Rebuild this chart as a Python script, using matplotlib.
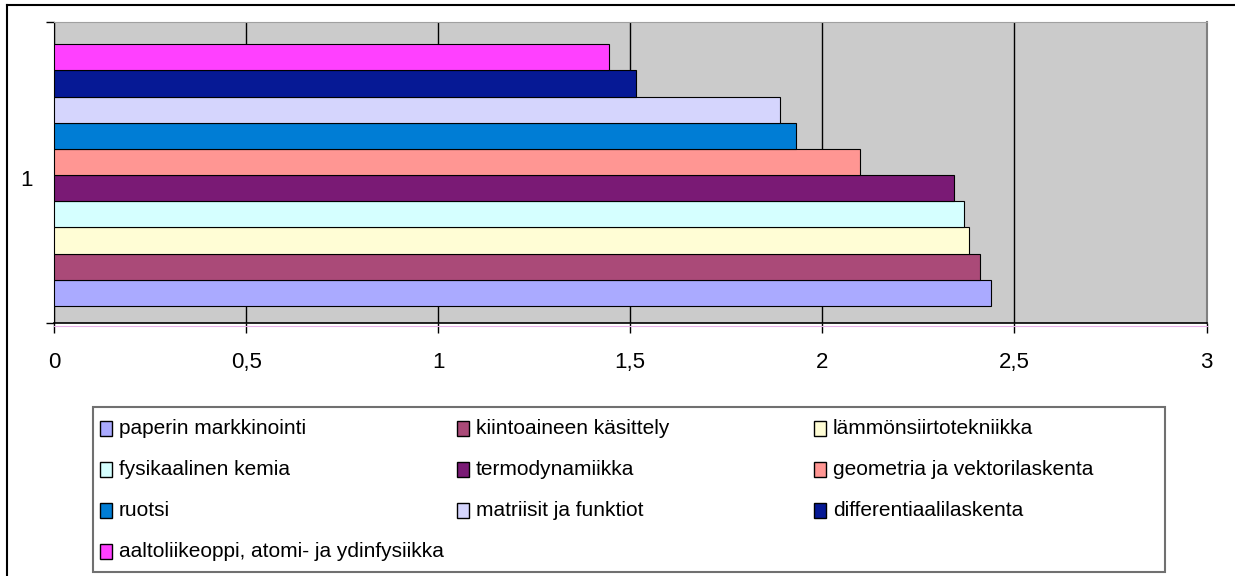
import matplotlib
matplotlib.use("Agg")
import matplotlib.pyplot as plt
from matplotlib import font_manager
from matplotlib.patches import Rectangle
from matplotlib.lines import Line2D

# series in Excel order (first series drawn at the bottom)
series = ["paperin markkinointi", "kiintoaineen käsittely", "lämmönsiirtotekniikka",
          "fysikaalinen kemia", "termodynamiikka", "geometria ja vektorilaskenta",
          "ruotsi", "matriisit ja funktiot", "differentiaalilaskenta",
          "aaltoliikeoppi, atomi- ja ydinfysiikka"]
values = [2.438, 2.411, 2.383, 2.369, 2.342, 2.098, 1.932, 1.890, 1.515, 1.445]
colors = ["#AAAAFF", "#AA4A78", "#FFFDD5", "#D5FFFF", "#7A1A75",
          "#FF9693", "#007DD5", "#D5D5FD", "#061995", "#FF40FF"]
category = "1"
xticks = [0, 0.5, 1, 1.5, 2, 2.5, 3]
xticklabels = ["0", "0,5", "1", "1,5", "2", "2,5", "3"]

# font: narrow Arial-like if available
names = {f.name for f in font_manager.fontManager.ttflist}
narrow = "Liberation Sans Narrow" in names
fam = "Liberation Sans Narrow" if narrow else "Liberation Sans"
plt.rcParams["font.family"] = [fam, "DejaVu Sans"]
tick_fs = 18 if narrow else 16
leg_fs = 17 if narrow else 15

W, H = 1235, 576
fig = plt.figure(figsize=(W / 100, H / 100), dpi=100)

# plot area in pixels
left, right, top, bottom = 54, 1206.5, 22, 323.3
ax = fig.add_axes([left / W, 1 - bottom / H, (right - left) / W, (bottom - top) / H])
ax.set_facecolor("#CBCBCB")

for i, (v, c) in enumerate(zip(values, colors)):
    ax.barh(i, v, height=1.0, color=c, edgecolor="black", linewidth=0.8, zorder=3)

ax.set_xlim(0, 3)
ax.set_ylim(-1.161, 10.352)

ax.set_xticks(xticks)
ax.set_xticklabels(xticklabels, fontsize=tick_fs)
ax.tick_params(axis="x", direction="out", length=7, width=1, color="black", pad=14)
ax.grid(axis="x", color="black", linewidth=1)
ax.set_axisbelow(True)

ax.set_yticks([4.4])
ax.set_yticklabels([category], fontsize=tick_fs)
ax.tick_params(axis="y", which="major", length=0, pad=15)
ax.set_yticks([-1.161, 10.352], minor=True)
ax.tick_params(axis="y", which="minor", direction="out", length=6, width=1, color="black")

ax.spines["left"].set_color("black")
ax.spines["bottom"].set_color("black")
ax.spines["bottom"].set_linewidth(1.2)
ax.spines["top"].set_color("#A0A0A0")
ax.spines["right"].set_color("#808080")
ax.spines["right"].set_linewidth(1.5)

# faint pink line just under the value axis
fig.add_artist(Line2D([left / W, right / W], [1 - 326 / H, 1 - 326 / H],
                      color="#E8B0E8", linewidth=0.8))

# outer chart frame (cut off at right and bottom)
fig.add_artist(Line2D([7 / W, 7 / W], [0, 1 - 5 / H], color="black", linewidth=1.5))
fig.add_artist(Line2D([7 / W, 1], [1 - 5 / H, 1 - 5 / H], color="black", linewidth=1.5))

# legend box, laid out row by row like Excel
fig.add_artist(Rectangle((93 / W, 1 - 572 / H), (1165 - 93) / W, (572 - 407) / H,
                         transform=fig.transFigure, facecolor="white",
                         edgecolor="#707070", linewidth=1.5))
for i, (name, c) in enumerate(zip(series, colors)):
    row, col = divmod(i, 3)
    x = 100 + col * 357
    y = 428 + row * 41.3
    fig.add_artist(Rectangle((x / W, 1 - (y + 7.5) / H), 12 / W, 15 / H,
                             transform=fig.transFigure, facecolor=c,
                             edgecolor="black", linewidth=1))
    fig.text((x + 19) / W, 1 - y / H, name, fontsize=leg_fs, va="center", ha="left")

fig.savefig("out.png", dpi=100)
